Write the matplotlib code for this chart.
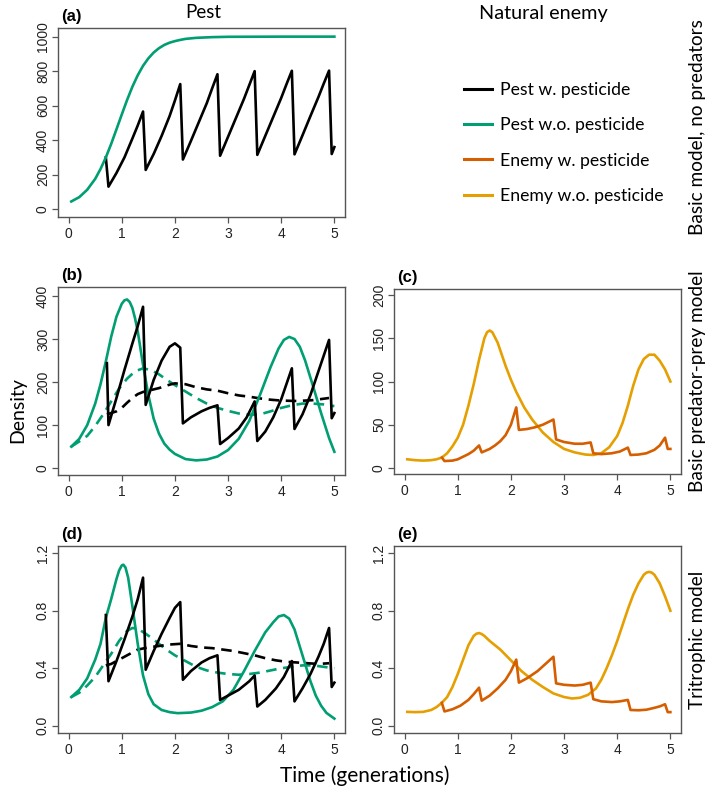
import matplotlib
matplotlib.use("Agg")
import matplotlib.pyplot as plt
from matplotlib.lines import Line2D

GREEN = "#009E73"
VERMILION = "#D55E00"
AMBER = "#E69F00"

# ---- panel (a): basic model, no predators ----
a_free_t = [0.05, 0.2, 0.35, 0.5, 0.6, 0.7, 0.8, 0.9, 1.0, 1.1, 1.2, 1.3, 1.4, 1.5, 1.6,
            1.7, 1.8, 1.9, 2.0, 2.1, 2.2, 2.4, 2.7, 3.0, 4.0, 5.0]
a_free = [45, 70, 113, 176, 233, 300, 378, 463, 549, 633, 710, 776, 831, 874, 908,
          933, 952, 965, 974, 981, 987, 993, 997, 999, 1000, 1000]
# pesticide sprayed every 0.7 generations, series starts at first spray
a_pest_t = [0.7,
            0.75, 0.9, 1.05, 1.2, 1.3, 1.4,
            1.45, 1.6, 1.75, 1.9, 2.0, 2.1,
            2.15, 2.3, 2.45, 2.6, 2.7, 2.8,
            2.85, 3.0, 3.15, 3.3, 3.4, 3.5,
            3.55, 3.7, 3.85, 4.0, 4.1, 4.2,
            4.25, 4.4, 4.55, 4.7, 4.8, 4.9,
            4.95, 5.0]
a_pest = [300,
          131, 210, 300, 410, 485, 566,
          228, 320, 425, 540, 630, 725,
          288, 395, 505, 615, 700, 782,
          310, 420, 530, 640, 720, 800,
          315, 425, 535, 645, 725, 802,
          318, 428, 540, 650, 728, 803,
          320, 360]

# ---- panel (b): basic predator-prey model, pest ----
b_free_t = [0.05, 0.2, 0.35, 0.5, 0.6, 0.7, 0.8, 0.9, 1.0, 1.05, 1.1, 1.15, 1.2, 1.25, 1.3,
            1.4, 1.5, 1.6, 1.7, 1.8, 1.9, 2.0, 2.2, 2.4, 2.6, 2.8, 3.0, 3.2, 3.4, 3.6, 3.8,
            3.95, 4.05, 4.15, 4.25, 4.35, 4.45, 4.6, 4.75, 4.9, 5.0]
b_free = [50, 68, 100, 150, 195, 248, 305, 352, 382, 390, 392, 386, 372, 348, 318,
          240, 170, 115, 80, 57, 43, 33, 21, 18, 20, 27, 42, 68, 110, 170, 235,
          278, 298, 305, 300, 282, 250, 190, 128, 70, 38]
b_pest_t = [0.72,
            0.75, 0.9, 1.05, 1.2, 1.3, 1.4,
            1.45, 1.6, 1.75, 1.9, 2.0, 2.1,
            2.15, 2.3, 2.5, 2.65, 2.8,
            2.85, 3.0, 3.2, 3.35, 3.5,
            3.55, 3.7, 3.85, 4.0, 4.2,
            4.25, 4.4, 4.55, 4.7, 4.9,
            4.95, 5.0]
b_pest = [244,
          100, 163, 228, 290, 330, 375,
          147, 205, 250, 282, 290, 280,
          104, 118, 132, 140, 146,
          56, 70, 92, 118, 155,
          63, 85, 118, 160, 232,
          91, 125, 170, 225, 298,
          116, 128]
b_pest_dash_t = [0.72, 0.8, 0.9, 1.0, 1.1, 1.2, 1.3, 1.4, 1.5, 1.7, 1.9, 2.0, 2.2, 2.4,
                 2.6, 2.8, 3.0, 3.2, 3.4, 3.6, 3.8, 4.0, 4.3, 4.6, 4.9]
b_pest_dash = [125, 128, 132, 140, 152, 163, 172, 177, 180, 186, 194, 197, 195, 188,
               183, 180, 174, 169, 166, 162, 159, 157, 156, 158, 163]
b_free_dash_t = [0.05, 0.2, 0.35, 0.5, 0.65, 0.8, 0.95, 1.1, 1.25, 1.4, 1.55, 1.7, 1.85,
                 2.0, 2.2, 2.4, 2.6, 2.8, 3.0, 3.2, 3.4, 3.6, 3.8, 4.0, 4.2, 4.4, 4.6,
                 4.8, 5.0]
b_free_dash = [50, 62, 75, 98, 125, 155, 185, 208, 225, 232, 228, 218, 205,
               193, 178, 163, 150, 140, 133, 127, 124, 125, 132, 140, 146, 150, 150,
               148, 144]

# ---- panel (c): basic predator-prey model, enemy ----
c_free_t = [0.05, 0.2, 0.35, 0.5, 0.6, 0.7, 0.8, 0.9, 1.0, 1.1, 1.2, 1.3, 1.4, 1.5, 1.55,
            1.6, 1.65, 1.75, 1.9, 2.0, 2.1, 2.25, 2.4, 2.6, 2.8, 3.0, 3.2, 3.4, 3.55, 3.7,
            3.85, 4.0, 4.1, 4.2, 4.3, 4.4, 4.5, 4.6, 4.7, 4.8, 4.9, 5.0]
c_free = [10, 9, 8.5, 9, 10, 12, 17, 25, 35, 50, 72, 97, 125, 150, 157,
          159, 157, 145, 118, 102, 88, 70, 56, 41, 30, 22, 18, 15.5, 15, 17,
          24, 37, 52, 72, 95, 114, 126, 131, 131, 124, 114, 100]
c_pest_t = [0.7,
            0.75, 0.9, 1.0, 1.1, 1.2, 1.3, 1.4,
            1.45, 1.6, 1.7, 1.8, 1.9, 2.0, 2.1,
            2.15, 2.3, 2.45, 2.6, 2.7, 2.8,
            2.85, 3.0, 3.2, 3.35, 3.5,
            3.55, 3.7, 3.9, 4.05, 4.2,
            4.25, 4.4, 4.55, 4.7, 4.8, 4.9,
            4.95, 5.0]
c_pest = [12,
          8, 8.5, 10, 13, 16, 20, 26,
          18, 22, 26, 31, 38, 50, 70,
          44, 45, 47, 50, 53, 56,
          33, 30, 28, 28, 29.5,
          17, 16, 17, 19, 23.5,
          15, 15.5, 17, 21, 26, 35,
          22, 22]

# ---- panel (d): tritrophic model, pest ----
d_free_t = [0.05, 0.2, 0.35, 0.5, 0.6, 0.7, 0.8, 0.9, 0.95, 1.0, 1.03, 1.07, 1.12, 1.16,
            1.2, 1.3, 1.4, 1.5, 1.6, 1.75, 1.9, 2.05, 2.3, 2.5, 2.7, 2.9, 3.1, 3.3, 3.5,
            3.7, 3.85, 3.95, 4.05, 4.15, 4.25, 4.35, 4.45, 4.55, 4.65, 4.75, 4.85, 5.0]
d_free = [0.2, 0.25, 0.33, 0.46, 0.57, 0.75, 0.88, 1.02, 1.08, 1.115, 1.12, 1.1, 1.03, 0.93,
          0.83, 0.57, 0.35, 0.22, 0.15, 0.11, 0.095, 0.088, 0.092, 0.105, 0.13, 0.17, 0.25,
          0.38, 0.52, 0.65, 0.72, 0.76, 0.77, 0.745, 0.67, 0.55, 0.43, 0.31, 0.21, 0.14,
          0.09, 0.05]
d_pest_t = [0.7,
            0.75, 0.9, 1.05, 1.2, 1.3, 1.4,
            1.45, 1.6, 1.75, 1.9, 2.0, 2.1,
            2.15, 2.3, 2.5, 2.65, 2.8,
            2.85, 3.0, 3.2, 3.4, 3.5,
            3.55, 3.7, 3.9, 4.05, 4.2,
            4.25, 4.4, 4.55, 4.7, 4.8, 4.9,
            4.95, 5.0]
d_pest = [0.77,
          0.31, 0.45, 0.6, 0.76, 0.88, 1.03,
          0.39, 0.52, 0.64, 0.75, 0.82, 0.86,
          0.32, 0.38, 0.44, 0.47, 0.49,
          0.18, 0.21, 0.25, 0.31, 0.35,
          0.134, 0.18, 0.26, 0.34, 0.45,
          0.17, 0.26, 0.36, 0.48, 0.57, 0.68,
          0.27, 0.30]
d_pest_dash_t = [0.7, 0.8, 0.95, 1.1, 1.3, 1.5, 1.7, 1.9, 2.1, 2.3, 2.5, 2.7, 2.9, 3.1,
                 3.3, 3.5, 3.7, 3.9, 4.1, 4.3, 4.5, 4.7, 4.9]
d_pest_dash = [0.42, 0.43, 0.46, 0.49, 0.53, 0.545, 0.555, 0.565, 0.57, 0.555, 0.545, 0.54,
               0.53, 0.52, 0.505, 0.49, 0.47, 0.455, 0.445, 0.44, 0.435, 0.43, 0.435]
d_free_dash_t = [0.05, 0.2, 0.35, 0.5, 0.65, 0.8, 0.95, 1.1, 1.2, 1.3, 1.45, 1.6, 1.8, 2.0,
                 2.2, 2.4, 2.6, 2.8, 3.0, 3.2, 3.4, 3.6, 3.8, 4.0, 4.2, 4.4, 4.6, 4.8, 5.0]
d_free_dash = [0.2, 0.23, 0.28, 0.34, 0.42, 0.5, 0.59, 0.66, 0.68, 0.675, 0.64, 0.6, 0.54,
               0.49, 0.45, 0.41, 0.385, 0.37, 0.36, 0.355, 0.36, 0.37, 0.385, 0.4, 0.41,
               0.42, 0.42, 0.41, 0.4]

# ---- panel (e): tritrophic model, enemy ----
e_free_t = [0.05, 0.2, 0.35, 0.5, 0.6, 0.7, 0.8, 0.9, 1.0, 1.1, 1.2, 1.3, 1.35, 1.4, 1.45,
            1.5, 1.6, 1.8, 2.0, 2.2, 2.4, 2.6, 2.8, 3.0, 3.15, 3.3, 3.45, 3.6, 3.7, 3.8,
            3.9, 4.0, 4.1, 4.2, 4.3, 4.4, 4.5, 4.55, 4.6, 4.65, 4.7, 4.8, 4.9, 5.0]
e_free = [0.097, 0.095, 0.097, 0.11, 0.13, 0.16, 0.2, 0.27, 0.36, 0.46, 0.56, 0.625, 0.64,
          0.645, 0.638, 0.625, 0.59, 0.53, 0.455, 0.38, 0.32, 0.27, 0.225, 0.2, 0.19, 0.195,
          0.215, 0.26, 0.32, 0.4, 0.49, 0.59, 0.7, 0.81, 0.91, 0.99, 1.05, 1.065, 1.07,
          1.065, 1.05, 0.99, 0.9, 0.8]
e_pest_t = [0.7,
            0.75, 0.9, 1.05, 1.2, 1.3, 1.4,
            1.45, 1.6, 1.75, 1.9, 2.0, 2.1,
            2.15, 2.3, 2.5, 2.65, 2.8,
            2.85, 3.0, 3.2, 3.35, 3.5,
            3.55, 3.7, 3.9, 4.05, 4.2,
            4.25, 4.4, 4.55, 4.7, 4.8, 4.9,
            4.95, 5.0]
e_pest = [0.16,
          0.1, 0.115, 0.14, 0.18, 0.22, 0.265,
          0.175, 0.21, 0.26, 0.32, 0.38, 0.46,
          0.3, 0.33, 0.38, 0.43, 0.48,
          0.295, 0.285, 0.28, 0.285, 0.3,
          0.185, 0.17, 0.165, 0.17, 0.18,
          0.11, 0.108, 0.112, 0.125, 0.135, 0.15,
          0.095, 0.095]

legend_labels = ["Pest w. pesticide", "Pest w.o. pesticide",
                 "Enemy w. pesticide", "Enemy w.o. pesticide"]

TEXT_FONT = ["Lato", "DejaVu Sans"]
plt.rcParams["font.family"] = ["Liberation Sans", "DejaVu Sans"]

fig = plt.figure(figsize=(7.09, 7.90), dpi=100)

W, H = 709, 790


def make_ax(left, top, right, bottom):
    return fig.add_axes([left / W, 1 - bottom / H, (right - left) / W, (bottom - top) / H])


def style(ax, yticks, ylabels, ylim, tag):
    ax.set_xlim(-0.2, 5.2)
    ax.set_ylim(*ylim)
    ax.set_xticks(range(6))
    ax.set_yticks(yticks)
    ax.set_yticklabels(ylabels, rotation=90, va="center")
    for s in ax.spines.values():
        s.set_color("#555555")
        s.set_linewidth(1.0)
    ax.tick_params(direction="out", length=4.3, width=0.9, color="#555555",
                   labelsize=10, labelcolor="#222222")
    ax.tick_params(axis="y", pad=1.5)
    ax.tick_params(axis="x", pad=3)
    ax.text(0.01, 1.02, tag, transform=ax.transAxes, fontsize=12, fontweight="bold",
            ha="left", va="bottom")


LW = 1.9
DASH = (0, (4, 2.5))

ax_a = make_ax(58, 28, 345, 217)
ax_a.plot(a_pest_t, a_pest, color="black", lw=LW)
ax_a.plot(a_free_t, a_free, color=GREEN, lw=LW)
style(ax_a, [0, 200, 400, 600, 800, 1000], ["0", "200", "400", "600", "800", "1000"],
      (-45, 1050), "(a)")

ax_b = make_ax(58, 287, 345, 475)
ax_b.plot(b_free_dash_t, b_free_dash, color=GREEN, lw=LW, ls=DASH)
ax_b.plot(b_pest_dash_t, b_pest_dash, color="black", lw=LW, ls=DASH)
ax_b.plot(b_free_t, b_free, color=GREEN, lw=LW)
ax_b.plot(b_pest_t, b_pest, color="black", lw=LW)
style(ax_b, [0, 100, 200, 300, 400], ["0", "100", "200", "300", "400"], (-16, 421), "(b)")

ax_c = make_ax(394, 289, 681, 474)
ax_c.plot(c_free_t, c_free, color=AMBER, lw=LW)
ax_c.plot(c_pest_t, c_pest, color=VERMILION, lw=LW)
style(ax_c, [0, 50, 100, 150, 200], ["0", "50", "100", "150", "200"], (-7, 207), "(c)")

ax_d = make_ax(58, 546, 345, 733)
ax_d.plot(d_free_dash_t, d_free_dash, color=GREEN, lw=LW, ls=DASH)
ax_d.plot(d_pest_dash_t, d_pest_dash, color="black", lw=LW, ls=DASH)
ax_d.plot(d_free_t, d_free, color=GREEN, lw=LW)
ax_d.plot(d_pest_t, d_pest, color="black", lw=LW)
style(ax_d, [0.0, 0.4, 0.8, 1.2], ["0.0", "0.4", "0.8", "1.2"], (-0.05, 1.25), "(d)")

ax_e = make_ax(394, 546, 681, 733)
ax_e.plot(e_free_t, e_free, color=AMBER, lw=LW)
ax_e.plot(e_pest_t, e_pest, color=VERMILION, lw=LW)
style(ax_e, [0.0, 0.4, 0.8, 1.2], ["0.0", "0.4", "0.8", "1.2"], (-0.05, 1.25), "(e)")

# column / row labels
fig.text(203 / W, 1 - 13 / H, "Pest", family=TEXT_FONT, fontsize=13.5, ha="center", va="center")
fig.text(543 / W, 1 - 13 / H, "Natural enemy", family=TEXT_FONT, fontsize=14.3,
         ha="center", va="center")
fig.text(18 / W, 1 - 410 / H, "Density", family=TEXT_FONT, fontsize=14, rotation=90,
         ha="center", va="center")
fig.text(365 / W, 1 - 776 / H, "Time (generations)", family=TEXT_FONT, fontsize=15,
         ha="center", va="center")
fig.text(698 / W, 1 - 127 / H, "Basic model, no predators", family=TEXT_FONT, fontsize=13.7,
         rotation=90, ha="center", va="center")
fig.text(698 / W, 1 - 381 / H, "Basic predator-prey model", family=TEXT_FONT, fontsize=13.7,
         rotation=90, ha="center", va="center")
fig.text(698 / W, 1 - 640 / H, "Tritrophic model", family=TEXT_FONT, fontsize=13.7,
         rotation=90, ha="center", va="center")

handles = [Line2D([], [], color=c, lw=2.2) for c in ["black", GREEN, VERMILION, AMBER]]
fig.legend(handles, legend_labels, loc="upper left", bbox_to_anchor=(455 / W, 1 - 73 / H),
           frameon=False, prop={"family": TEXT_FONT, "size": 12.7}, handlelength=1.6,
           handletextpad=0.45, labelspacing=1.1, borderpad=0)

fig.savefig("out.png", dpi=100)
